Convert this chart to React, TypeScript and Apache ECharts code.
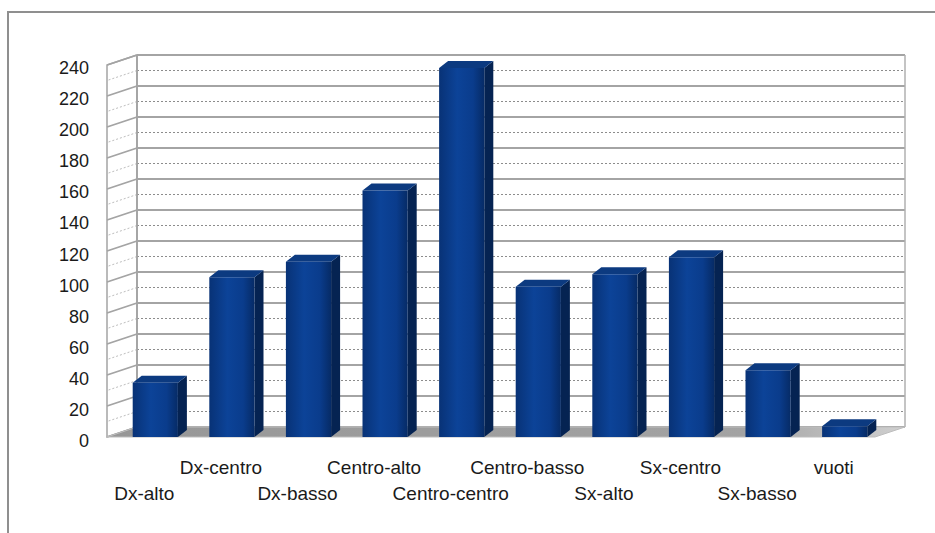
import React, { useEffect, useRef } from "react";
import * as echarts from "echarts";

const categories = [
  "Dx-alto",
  "Dx-centro",
  "Dx-basso",
  "Centro-alto",
  "Centro-centro",
  "Centro-basso",
  "Sx-alto",
  "Sx-centro",
  "Sx-basso",
  "vuoti",
];
const values = [35, 103, 113, 159, 238, 97, 105, 116, 43, 7];
const yMin = 0;
const yMax = 240;
const yInterval = 20;

// layout constants (decoration only)
const BACK = { left: 137, top: 55, width: 768, height: 372 };
const DEPTH_X = -30;
const DEPTH_Y = 10;
const FONT = "'Liberation Sans', Arial, sans-serif";

export default function App() {
  const ref = useRef<HTMLDivElement>(null);

  useEffect(() => {
    if (!ref.current) return;
    const chart = echarts.init(ref.current, null, { renderer: "svg" });

    const backBottom = BACK.top + BACK.height;
    const backRight = BACK.left + BACK.width;
    const pxPerUnit = BACK.height / (yMax - yMin);

    const sideLines: any[] = [];
    for (let v = yMin; v <= yMax; v += yInterval / 2) {
      const y = backBottom - (v - yMin) * pxPerUnit;
      const major = Math.round(v) % yInterval === 0;
      sideLines.push({
        type: "line",
        shape: { x1: BACK.left, y1: y, x2: BACK.left + DEPTH_X, y2: y + DEPTH_Y },
        style: major
          ? { stroke: "#a4a4a4", lineWidth: 1.8 }
          : { stroke: "#bdbdbd", lineWidth: 1, lineDash: [2, 2] },
        z: 1,
      });
    }

    const option: any = {
      animation: false,
      backgroundColor: "#ffffff",
      textStyle: { fontFamily: FONT },
      grid: [
        { left: BACK.left, top: BACK.top, width: BACK.width, height: BACK.height },
        { left: 106, top: 68, width: 766, height: 373 },
        { left: 117, top: 65, width: 766, height: 372 },
      ],
      xAxis: [
        {
          gridIndex: 0,
          type: "category",
          data: categories,
          axisLine: { show: false },
          axisTick: { show: false },
          axisLabel: { show: false },
          splitLine: { show: false },
        },
        {
          gridIndex: 1,
          type: "category",
          data: categories,
          axisLine: { show: false },
          axisTick: { show: false },
          splitLine: { show: false },
          axisLabel: {
            interval: 0,
            margin: 13,
            fontSize: 19,
            lineHeight: 26,
            color: "#1a1a1a",
            fontFamily: FONT,
            formatter: (val: string, idx: number) => (idx % 2 === 0 ? "\n" + val : val),
          },
        },
        {
          gridIndex: 2,
          type: "category",
          data: categories,
          show: false,
        },
      ],
      yAxis: [
        {
          gridIndex: 0,
          type: "value",
          min: yMin,
          max: yMax,
          interval: yInterval,
          axisLine: { show: false },
          axisTick: { show: false },
          axisLabel: { show: false },
          splitLine: { show: true, lineStyle: { color: "#a4a4a4", width: 1.8 } },
          minorTick: { show: false, splitNumber: 2 },
          minorSplitLine: {
            show: true,
            lineStyle: { color: "#8c8c8c", width: 1, type: [2, 2] },
          },
        },
        {
          gridIndex: 1,
          type: "value",
          min: yMin,
          max: yMax,
          interval: yInterval,
          axisLine: { show: false },
          axisTick: { show: false },
          splitLine: { show: false },
          axisLabel: {
            margin: 17,
            fontSize: 18,
            color: "#1a1a1a",
            fontFamily: FONT,
          },
        },
        {
          gridIndex: 2,
          type: "value",
          min: yMin,
          max: yMax,
          show: false,
        },
      ],
      graphic: [
        {
          type: "rect",
          shape: { x: 8, y: 12, width: 940, height: 540 },
          style: { fill: "none", stroke: "#8f8f8f", lineWidth: 2 },
          z: 0,
        },
        {
          type: "polygon",
          shape: {
            points: [
              [BACK.left, BACK.top],
              [BACK.left + DEPTH_X, BACK.top + DEPTH_Y],
              [BACK.left + DEPTH_X, backBottom + DEPTH_Y],
              [BACK.left, backBottom],
            ],
          },
          style: { fill: "#ffffff", stroke: "#a4a4a4", lineWidth: 1.5 },
          z: 0,
        },
        ...sideLines,
        {
          type: "line",
          shape: { x1: BACK.left, y1: BACK.top, x2: BACK.left, y2: backBottom },
          style: { stroke: "#a4a4a4", lineWidth: 1.8 },
          z: 1,
        },
        {
          type: "line",
          shape: { x1: backRight, y1: BACK.top, x2: backRight, y2: backBottom },
          style: { stroke: "#b0b0b0", lineWidth: 1.5 },
          z: 1,
        },
        {
          type: "polygon",
          shape: {
            points: [
              [BACK.left, backBottom],
              [backRight, backBottom],
              [backRight + DEPTH_X, backBottom + DEPTH_Y],
              [BACK.left + DEPTH_X, backBottom + DEPTH_Y],
            ],
          },
          style: {
            fill: new echarts.graphic.LinearGradient(0, 0, 1, 0, [
              { offset: 0, color: "#979797" },
              { offset: 0.8, color: "#a3a3a3" },
              { offset: 1, color: "#d0d0d0" },
            ]),
            stroke: "#bdbdbd",
            lineWidth: 1,
          },
          z: 1,
        },
      ],
      series: [
        {
          type: "custom",
          xAxisIndex: 2,
          yAxisIndex: 2,
          z: 5,
          data: values.map((v, i) => [i, v]),
          renderItem: (params: any, api: any) => {
            const i = api.value(0);
            const v = api.value(1);
            const top = api.coord([i, v]);
            const base = api.coord([i, 0]);
            const band = api.size([1, 0])[0];
            const w = band * 0.59;
            const x0 = top[0] - w / 2;
            const x1 = x0 + w;
            const dx = 9;
            const dy = -7;
            const yt = top[1];
            const yb = base[1];
            return {
              type: "group",
              children: [
                {
                  type: "polygon",
                  shape: {
                    points: [
                      [x1, yt],
                      [x1 + dx, yt + dy],
                      [x1 + dx, yb + dy],
                      [x1, yb],
                    ],
                  },
                  style: { fill: "#052352" },
                },
                {
                  type: "polygon",
                  shape: {
                    points: [
                      [x0, yt],
                      [x0 + dx, yt + dy],
                      [x1 + dx, yt + dy],
                      [x1, yt],
                    ],
                  },
                  style: { fill: "#0c3a80" },
                },
                {
                  type: "rect",
                  shape: { x: x0, y: yt, width: w, height: yb - yt },
                  style: {
                    fill: new echarts.graphic.LinearGradient(0, 0, 1, 0, [
                      { offset: 0, color: "#083276" },
                      { offset: 0.4, color: "#0c4398" },
                      { offset: 0.75, color: "#0a3c8c" },
                      { offset: 1, color: "#062b66" },
                    ]),
                  },
                },
              ],
            };
          },
        },
      ],
    };

    chart.setOption(option);
    return () => chart.dispose();
  }, []);

  return (
    <div
      ref={ref}
      style={{ position: "absolute", left: 0, top: 0, width: 935, height: 533 }}
    />
  );
}
